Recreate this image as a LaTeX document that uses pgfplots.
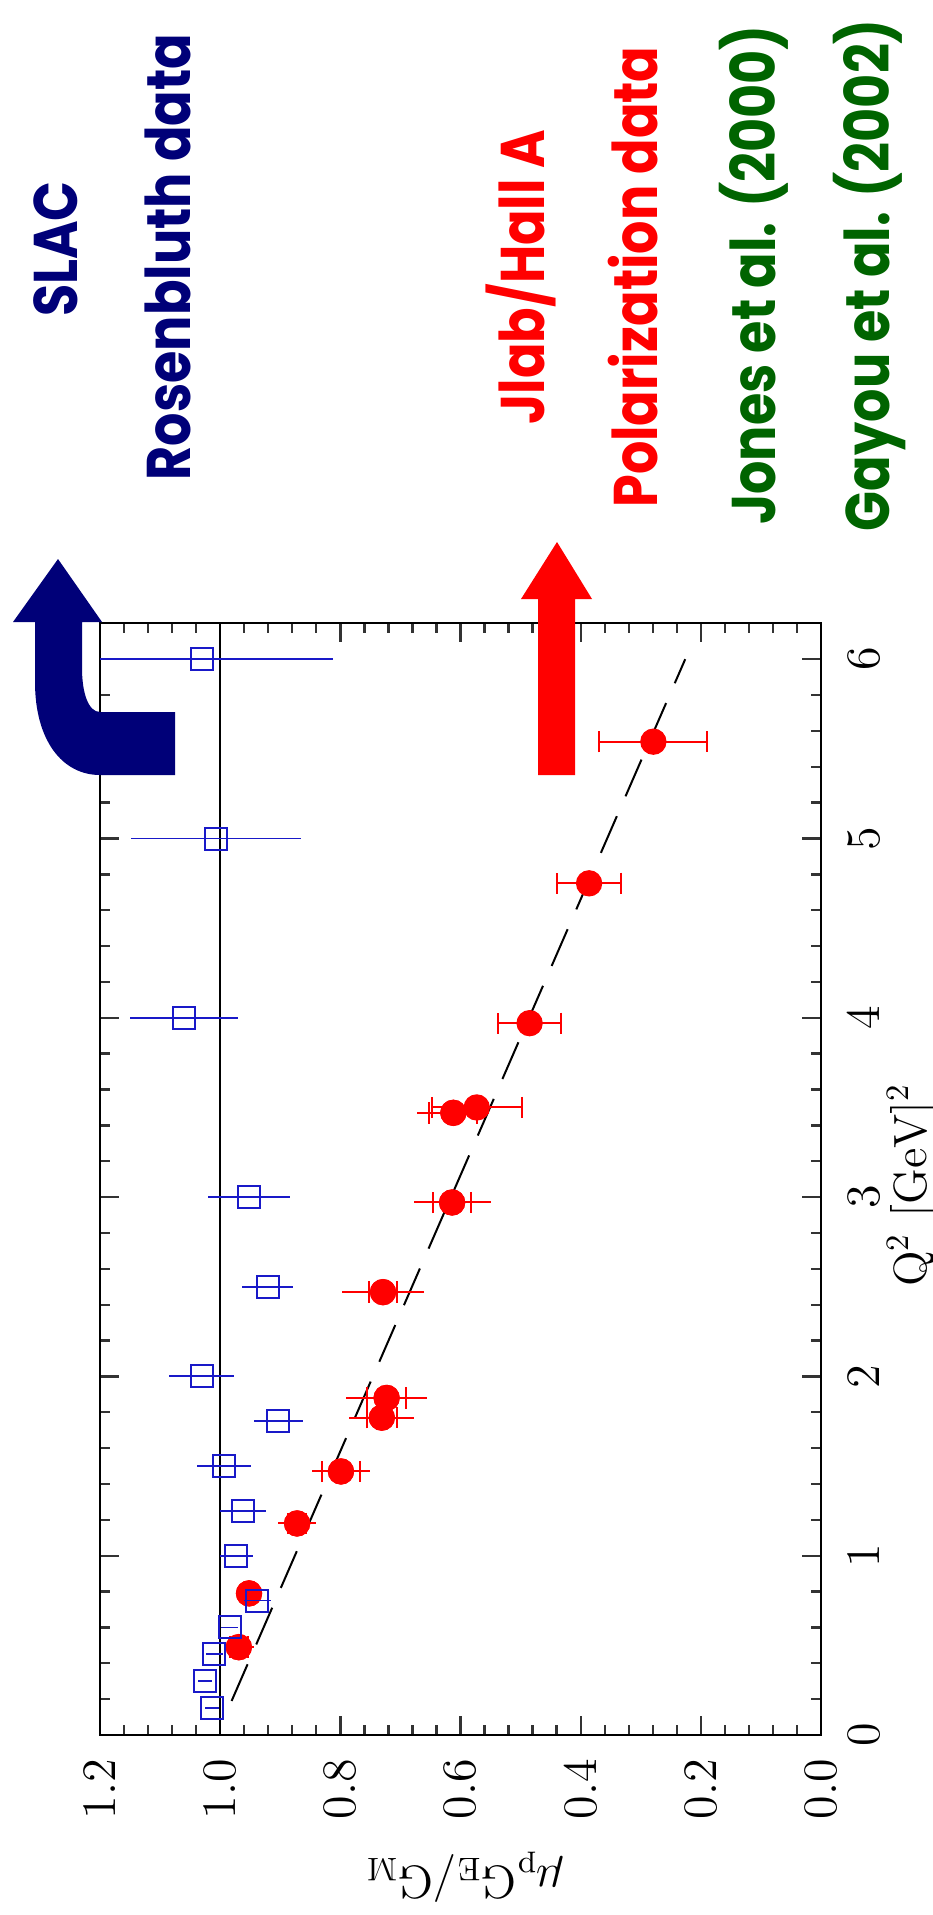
\documentclass[border=0pt]{standalone}
\usepackage{pgfplots}
\pgfplotsset{compat=1.18}
\usepackage{pgfplotstable}
\usepackage{fontspec}
\newfontfamily\annfont{Poppins}[FakeStretch=0.85]

\definecolor{slacblue}{RGB}{0,0,120}
\definecolor{markblue}{RGB}{25,25,200}
\definecolor{refgreen}{RGB}{0,100,0}

% SLAC Rosenbluth separation: Q^2, ratio, error
\pgfplotstableread{
q2   r     err
0.15 1.014 0.012
0.30 1.025 0.012
0.45 1.010 0.014
0.60 0.984 0.014
0.75 0.938 0.022
1.00 0.973 0.027
1.25 0.962 0.038
1.50 0.994 0.045
1.75 0.903 0.040
2.00 1.031 0.054
2.50 0.921 0.043
3.00 0.952 0.068
4.00 1.060 0.090
5.00 1.007 0.142
6.00 1.030 0.218
}\slacdata

% JLab Hall A recoil polarization, Jones et al. (2000): stat and total errors
\pgfplotstableread{
q2   r     stat  tot
0.49 0.969 0.015 0.025
0.79 0.952 0.012 0.020
1.18 0.872 0.015 0.031
1.47 0.799 0.032 0.048
1.77 0.731 0.025 0.054
1.88 0.723 0.032 0.067
2.47 0.729 0.024 0.068
2.97 0.614 0.031 0.064
3.47 0.612 0.040 0.060
}\jonesdata

% JLab Hall A recoil polarization, Gayou et al. (2002)
\pgfplotstableread{
q2   r     err
3.50 0.573 0.075
3.97 0.485 0.052
4.75 0.386 0.053
5.54 0.279 0.090
}\gayoudata

\begin{document}
\begin{tikzpicture}
\useasboundingbox (0pt,0pt) rectangle (279.9pt,-574.5pt);

% the whole plot is turned a quarter turn: Q^2 runs upward, the ratio leftward
\begin{axis}[
  at={(246.3pt,-520.5pt)}, anchor=origin,
  x={(0pt,53.79pt)}, y={(-180.24pt,0pt)},
  xmin=0, xmax=6.2, ymin=0, ymax=1.2,
  clip mode=individual,
  axis line style={line width=0.6pt},
  xtick={0,1,2,3,4,5,6}, minor x tick num=4,
  ytick={0,0.2,0.4,0.6,0.8,1.0,1.2}, minor y tick num=4,
  xticklabels={}, yticklabels={},
  tick label style={opacity=0},
  tick align=inside,
  major tick length=5.7pt, minor tick length=3pt,
  tick style={black!80, line width=0.7pt},
]
% unit ratio
\addplot[black, line width=0.45pt] coordinates {(0,1) (6.2,1)};
% linear fit to the polarization data
\addplot[black, line width=0.6pt, dash pattern=on 12pt off 6.5pt]
  coordinates {(0.19,0.981) (6.0,0.226)};

% polarization data: total errors, then statistical errors with caps
\addplot[only marks, mark=*, mark size=3.75pt, red,
  error bars/.cd, y dir=both, y explicit, error mark=none,
  error bar style={red, line width=0.6pt}]
  table[x=q2, y=r, y error=tot] {\jonesdata};
\addplot[only marks, mark=*, mark size=3.75pt, red,
  error bars/.cd, y dir=both, y explicit, error mark=|,
  error mark options={red, mark size=3.2pt, line width=0.6pt},
  error bar style={red, line width=0.6pt}]
  table[x=q2, y=r, y error=stat] {\jonesdata};
\addplot[only marks, mark=*, mark size=3.75pt, red,
  error bars/.cd, y dir=both, y explicit, error mark=|,
  error mark options={red, mark size=3.2pt, line width=0.6pt},
  error bar style={red, line width=0.6pt}]
  table[x=q2, y=r, y error=err] {\gayoudata};

% Rosenbluth data
\addplot[only marks, mark=square, mark size=3.3pt, markblue,
  mark options={line width=0.6pt},
  error bars/.cd, y dir=both, y explicit, error mark=none,
  error bar style={markblue, line width=0.55pt}]
  table[x=q2, y=r, y error=err] {\slacdata};

% tick labels, turned with the plot
\pgfplotsinvokeforeach{0,1,2,3,4,5,6}{
  \node[rotate=90, anchor=north, inner ysep=8pt, inner xsep=0pt,
        font=\fontsize{14}{16}\selectfont] at (axis cs:#1,0) {$#1$};
}
\pgfplotsinvokeforeach{0.0,0.2,0.4,0.6,0.8,1.0,1.2}{
  \node[rotate=90, anchor=east, inner xsep=7pt, inner ysep=0pt,
        font=\fontsize{14}{16}\selectfont] at (axis cs:0,#1) {$#1$};
}
\end{axis}

\begin{scope}[x=0.3pt, y=-0.3pt]
% axis titles
\node[rotate=90, anchor=base, inner sep=0pt] at (926,1185)
  {\fontsize{14}{16}\selectfont $\mathrm{Q^2\ [GeV]^2}$};
\node[rotate=180, anchor=base, inner sep=0pt] at (465,1866)
  {\fontsize{14}{16}\selectfont $\mu_{\mathrm{p}}\mathrm{G_E/G_M}$};

% bent arrow for the SLAC data
\fill[slacblue] (175,775) -- (100,775)
  .. controls (62,775) and (35,740) .. (35,682) -- (35,622) -- (13,622)
  -- (58,559) -- (102,622) -- (82,622) -- (82,668)
  .. controls (82,692) and (88,712) .. (100,712) -- (175,712) -- cycle;
% straight arrow for the JLab data
\fill[red] (538,775) -- (538,599) -- (521,599) -- (557,542) -- (592,599)
  -- (575,599) -- (575,775) -- cycle;

\begin{scope}[every node/.style={rotate=90, anchor=base, inner sep=0pt,
    font=\annfont\bfseries\fontsize{18.5}{20}\selectfont}]
\node[text=slacblue] at (77,249) {SLAC};
\node[text=slacblue] at (190,257) {Rosenbluth data};
\node[text=red] at (544,277) {Jlab/Hall A};
\node[text=red] at (657,277) {Polarization data};
\node[text=refgreen] at (775,275) {Jones et al. (2000)};
\node[text=refgreen] at (889,275) {Gayou et al. (2002)};
\end{scope}
\end{scope}
\end{tikzpicture}
\end{document}
